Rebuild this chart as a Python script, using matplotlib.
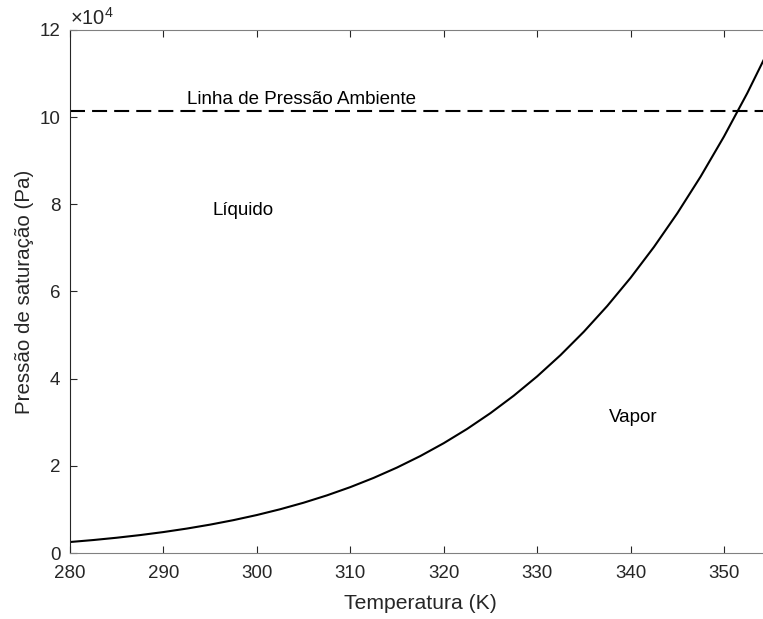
import matplotlib
matplotlib.use("Agg")
import matplotlib.pyplot as plt
import numpy as np

plt.rcParams['font.family'] = ['Liberation Sans', 'DejaVu Sans']
plt.rcParams['mathtext.fontset'] = 'custom'
plt.rcParams['mathtext.rm'] = 'Liberation Sans'

# temperatura (K) e pressao de saturacao (Pa)
temp = [280, 282.5, 285, 287.5, 290, 292.5, 295, 297.5, 300, 302.5, 305, 307.5,
        310, 312.5, 315, 317.5, 320, 322.5, 325, 327.5, 330, 332.5, 335, 337.5,
        340, 342.5, 345, 347.5, 350, 352.5, 355]
psat = [2520, 2976, 3503, 4110, 4805, 5602, 6510, 7542, 8714, 10041, 11536, 13222,
        15113, 17234, 19605, 22250, 25194, 28462, 32087, 36096, 40522, 45400, 50773, 56668,
        63131, 70206, 77936, 86371, 95560, 105543, 116397]

p_amb = 101325
xticks = [280, 290, 300, 310, 320, 330, 340, 350]
yticks = [0, 2e4, 4e4, 6e4, 8e4, 10e4, 12e4]
ytick_labels = ['0', '2', '4', '6', '8', '10', '12']

gray = '#262626'
fig = plt.figure(figsize=(7.63, 6.19), dpi=100)
ax = fig.add_axes([70/763, 66/619, 700.7/763, 523/619])

ax.plot(temp, psat, color='black', lw=1.5)
ax.plot([280, 355], [p_amb, p_amb], color='black', lw=1.5, dashes=(7.2, 3.4))

ax.set_xlim(280, 355)
ax.set_ylim(0, 12e4)
ax.set_xticks(xticks)
ax.set_yticks(yticks)
ax.set_yticklabels(ytick_labels)
ax.tick_params(direction='in', length=5, width=0.8, colors=gray, labelsize=13.5,
               top=True, right=True)
ax.tick_params(axis='x', pad=9)
ax.tick_params(axis='y', pad=7)
for s in ax.spines.values():
    s.set_color('#808080')
    s.set_linewidth(0.8)
ax.spines['left'].set_color(gray)

ax.text(0.0, 1.002, r'$\times\mathregular{10^4}$', transform=ax.transAxes,
        fontsize=14.5, color=gray, ha='left', va='bottom')

ax.text(292.5, 10.40e4, 'Linha de Pressão Ambiente', fontsize=13.5, va='center', ha='left')
ax.text(295.3, 7.85e4, 'Líquido', fontsize=13.5, va='center', ha='left')
ax.text(337.7, 3.12e4, 'Vapor', fontsize=13.5, va='center', ha='left')

ax.set_xlabel('Temperatura (K)', fontsize=15.2, color=gray, labelpad=8)
ax.set_ylabel('Pressão de saturação (Pa)', fontsize=14.8, color=gray, labelpad=4)

fig.savefig('out.png', dpi=100)
